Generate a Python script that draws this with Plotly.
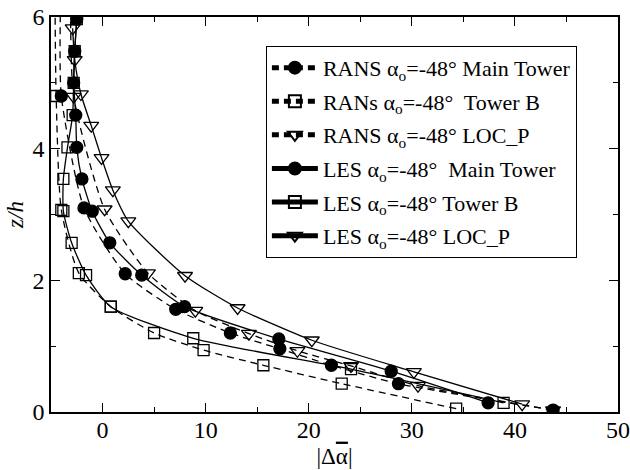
import plotly.graph_objects as go

# ---- data ----
rans_main_x = [43.7, 28.7, 22.2, 17.2, 12.4, 7.1, 2.2, -1.8, -4.0, -4.1]
rans_main_y = [0.03, 0.43, 0.71, 0.96, 1.20, 1.56, 2.10, 3.10, 4.80, 6.00]

rans_towb_x = [34.3, 23.2, 15.6, 9.8, 5.0, 0.8, -2.3, -4.0, -4.5, -4.6]
rans_towb_y = [0.05, 0.43, 0.71, 0.94, 1.20, 1.60, 2.11, 3.07, 4.80, 6.00]

rans_locp_x = [43.7, 30.6, 24.1, 18.9, 14.2, 9.0, 4.4, 0.2, -2.8, -3.1]
rans_locp_y = [0.03, 0.40, 0.70, 0.93, 1.19, 1.54, 2.11, 3.08, 4.79, 6.00]

les_main_x = [37.4, 28.0, 17.1, 7.96, 3.8, 0.7, -1.0, -2.0, -2.5, -2.6, -2.8, -2.7, -2.5]
les_main_y = [0.14, 0.62, 1.11, 1.60, 2.08, 2.57, 3.05, 3.54, 4.02, 4.51, 5.00, 5.48, 5.97]

les_towb_x = [38.9, 24.1, 8.8, 0.8, -1.6, -3.0, -3.8, -3.8, -3.4, -2.9, -2.8, -2.7, -2.5]
les_towb_y = [0.14, 0.65, 1.12, 1.60, 2.08, 2.57, 3.05, 3.54, 4.02, 4.51, 5.00, 5.48, 5.97]

les_locp_x = [40.7, 30.2, 20.3, 13.1, 8.0, 2.5, 1.0, -0.1, -1.1, -2.1, -2.7, -2.9]
les_locp_y = [0.12, 0.61, 1.09, 1.58, 2.07, 2.90, 3.37, 3.86, 4.35, 4.83, 5.35, 5.83]

names = [
    "RANS α<sub>o</sub>=-48° Main Tower",
    "RANs α<sub>o</sub>=-48°  Tower B",
    "RANS α<sub>o</sub>=-48° LOC_P",
    "LES α<sub>o</sub>=-48°  Main Tower",
    "LES α<sub>o</sub>=-48° Tower B",
    "LES α<sub>o</sub>=-48° LOC_P",
]

series = [
    (rans_main_x, rans_main_y, "dash", "circle", 12, True),
    (rans_towb_x, rans_towb_y, "dash", "square-open", 11, True),
    (rans_locp_x, rans_locp_y, "dash", "triangle-down-open", 13, True),
    (les_main_x, les_main_y, "solid", "circle", 12, False),
    (les_towb_x, les_towb_y, "solid", "square-open", 11, False),
    (les_locp_x, les_locp_y, "solid", "triangle-down-open", 13, False),
]

fig = go.Figure()
for i, ((xs, ys, dash, sym, size, hide_last), name) in enumerate(zip(series, names)):
    sizes = [size] * len(xs)
    if hide_last:
        sizes[-1] = 0
    fig.add_trace(go.Scatter(
        x=xs, y=ys, name=name, mode="lines+markers", legendgroup=f"g{i}",
        line=dict(color="black", width=1.3, dash="7px,5px" if dash == "dash" else "solid",
                  shape="spline", smoothing=0.6),
        marker=dict(symbol=sym, size=sizes, color="#000000", opacity=1,
                    line=dict(color="#000000", width=1.3)),
        hoverinfo="skip",
    ))

font_family = "Liberation Serif, Times New Roman, serif"

fig.update_layout(
    width=630, height=470,
    margin=dict(l=51, r=12, t=17, b=58),
    paper_bgcolor="white", plot_bgcolor="white",
    font=dict(family=font_family, size=22, color="black"),
    showlegend=True,
    legend=dict(
        x=0.379, y=0.927, xanchor="left", yanchor="top",
        bgcolor="white", bordercolor="black", borderwidth=1,
        font=dict(family=font_family, size=22, color="black"),
        tracegroupgap=2, itemsizing="constant", itemwidth=46,
    ),
    xaxis=dict(
        range=[-5, 50], dtick=10, tick0=0, automargin=False,
        ticks="inside", ticklen=9, tickwidth=1, tickcolor="black",
        showline=True, linecolor="black", linewidth=1.5, mirror="ticks",
        showgrid=False, zeroline=False,
        minor=dict(dtick=5, ticks="inside", ticklen=5, tickcolor="black"),
        title=dict(text="|Δ<span style='text-decoration:overline'>α</span>|",
                   font=dict(size=23, color="black"), standoff=6),
        tickfont=dict(size=24),
        ticklabelstandoff=-5,
    ),
    yaxis=dict(
        range=[0, 6], dtick=2, tick0=0, automargin=False,
        ticks="inside", ticklen=9, tickwidth=1, tickcolor="black",
        showline=True, linecolor="black", linewidth=1.5, mirror="ticks",
        showgrid=False, zeroline=False,
        minor=dict(dtick=1, ticks="inside", ticklen=5, tickcolor="black"),
        title=dict(text="<i>z/h</i>", font=dict(size=23, color="black"), standoff=2),
        tickfont=dict(size=24),
    ),
)

fig.write_html("out.html", config={"displayModeBar": False},
               post_script="document.body.style.margin='0';document.body.style.padding='0';")
